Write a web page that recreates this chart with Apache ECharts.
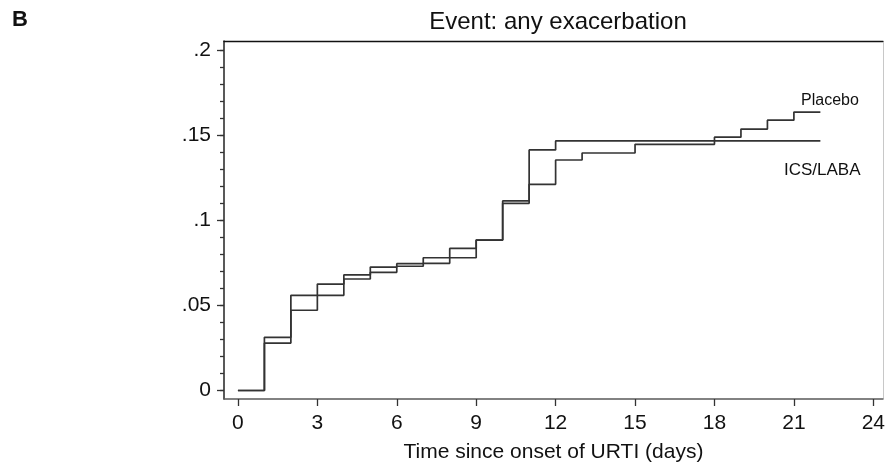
<!DOCTYPE html>
<html>
<head>
<meta charset="utf-8">
<script src="https://cdn.jsdelivr.net/npm/echarts@6/dist/echarts.min.js"></script>
<style>
  html, body { margin: 0; padding: 0; background: #fff; }
  #chart { width: 888px; height: 468px; }
</style>
</head>
<body>
<div id="chart"></div>
<script>
// ---- data ----
const days = [0,1,2,3,4,5,6,7,8,9,10,11,12,13,14,15,16,17,18,19,20,21,22];
const icsLaba = [0, 0.0313, 0.0560, 0.0626, 0.0680, 0.0726, 0.0746, 0.0781, 0.0781, 0.0885, 0.1115, 0.1415, 0.1468, 0.1468, 0.1468, 0.1468, 0.1468, 0.1468, 0.1468, 0.1468, 0.1468, 0.1468, 0.1468];
const placebo = [0, 0.0279, 0.0472, 0.0560, 0.0656, 0.0695, 0.0731, 0.0748, 0.0836, 0.0885, 0.1101, 0.1213, 0.1356, 0.1397, 0.1397, 0.1448, 0.1448, 0.1448, 0.1490, 0.1538, 0.1590, 0.1638, 0.1638];
const xTicks = [0,3,6,9,12,15,18,21,24];
const yTicks = [0,0.05,0.1,0.15,0.2];
const yMinorTicks = [0,0.01,0.02,0.03,0.04,0.05,0.06,0.07,0.08,0.09,0.1,0.11,0.12,0.13,0.14,0.15,0.16,0.17,0.18,0.19,0.2];
const seriesNames = ['ICS/LABA', 'Placebo'];
const titleText = 'Event: any exacerbation';
const xAxisTitle = 'Time since onset of URTI (days)';
const panelLetter = 'B';

const FONT = 'Liberation Sans, Arial, Helvetica, sans-serif';
const X_MIN = -0.526, X_MAX = 24.36;
const Y_MIN = -0.005, Y_MAX = 0.2056;
const lineColor = '#333333';

const chart = echarts.init(document.getElementById('chart'), null, { renderer: 'canvas' });

function yFmt(v) {
  if (Math.abs(v) < 1e-9) return '0';
  return String(+v.toFixed(3)).replace(/^0/, '');
}

const option = {
  backgroundColor: '#fff',
  animation: false,
  grid: { left: 224, right: 2, top: 41, bottom: 69, show: false },
  xAxis: [
    {
      type: 'value', position: 'bottom', min: X_MIN, max: X_MAX,
      axisLine: { show: true, onZero: false, lineStyle: { color: '#5a5a5a', width: 1.5 } },
      axisTick: { show: true, customValues: xTicks, length: 7, lineStyle: { color: '#333', width: 1.3 } },
      axisLabel: { customValues: xTicks, fontSize: 21, fontFamily: FONT, color: '#111', margin: 14 },
      splitLine: { show: false },
      name: xAxisTitle, nameLocation: 'middle', nameGap: 43,
      nameTextStyle: { fontSize: 21, fontFamily: FONT, color: '#111' }
    },
    {
      type: 'value', position: 'top', min: X_MIN, max: X_MAX,
      axisLine: { show: true, onZero: false, lineStyle: { color: '#111', width: 1.3 } },
      axisTick: { show: false }, axisLabel: { show: false }, splitLine: { show: false }
    }
  ],
  yAxis: [
    {
      type: 'value', position: 'left', min: Y_MIN, max: Y_MAX,
      axisLine: { show: true, onZero: false, lineStyle: { color: '#222', width: 1.5 } },
      axisTick: { show: true, customValues: yTicks, length: 7, lineStyle: { color: '#333', width: 1.3 } },
      axisLabel: { customValues: yTicks, formatter: yFmt, fontSize: 21, fontFamily: FONT, color: '#111', margin: 13 },
      splitLine: { show: false }
    },
    {
      type: 'value', position: 'left', offset: 0, min: Y_MIN, max: Y_MAX,
      axisLine: { show: false, onZero: false },
      axisTick: { show: true, customValues: yMinorTicks, length: 4, lineStyle: { color: '#333', width: 1.3 } },
      axisLabel: { show: false }, splitLine: { show: false }
    },
    {
      type: 'value', position: 'right', min: Y_MIN, max: Y_MAX,
      axisLine: { show: true, onZero: false, lineStyle: { color: '#c8c8c8', width: 1 } },
      axisTick: { show: false }, axisLabel: { show: false }, splitLine: { show: false }
    }
  ],
  series: [
    {
      name: seriesNames[0], type: 'line', step: 'end', showSymbol: false,
      data: days.map((d, i) => [d, icsLaba[i]]),
      lineStyle: { color: lineColor, width: 1.7 }, z: 3
    },
    {
      name: seriesNames[1], type: 'line', step: 'end', showSymbol: false,
      data: days.map((d, i) => [d, placebo[i]]),
      lineStyle: { color: lineColor, width: 1.7 }, z: 3
    }
  ],
  graphic: [
    { type: 'text', left: 12, top: 9, style: { text: panelLetter, font: 'bold 22px ' + FONT, fill: '#111' } },
    { type: 'text', x: 558, y: 22, style: { text: titleText, font: '24px ' + FONT, fill: '#111', textAlign: 'center', textVerticalAlign: 'middle' } },
    { type: 'text', x: 801, y: 101, style: { text: seriesNames[1], font: '16px ' + FONT, fill: '#111', textAlign: 'left', textVerticalAlign: 'middle' } },
    { type: 'text', x: 784, y: 170, style: { text: seriesNames[0], font: '17px ' + FONT, fill: '#111', textAlign: 'left', textVerticalAlign: 'middle' } }
  ]
};

chart.setOption(option);
</script>
</body>
</html>
